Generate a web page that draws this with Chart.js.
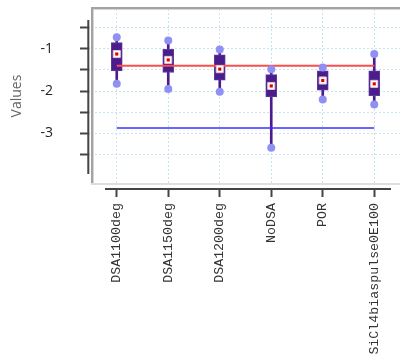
<!DOCTYPE html>
<html>
<head>
<meta charset="utf-8">
<script src="https://cdn.jsdelivr.net/npm/chart.js@4/dist/chart.umd.min.js"></script>
<style>
  html, body { margin: 0; padding: 0; background: #fff; }
  #wrap { width: 400px; height: 356px; }
</style>
</head>
<body>
<div id="wrap"><canvas id="chart" width="400" height="356"></canvas></div>
<script>
const categories = ['DSA1100deg', 'DSA1150deg', 'DSA1200deg', 'NoDSA', 'POR', 'SiCl4biaspulse0E100'];
const whiskerMin = [-1.83, -1.95, -2.02, -3.35, -2.20, -2.32];
const whiskerMax = [-0.72, -0.80, -1.01, -1.48, -1.44, -1.12];
const q1 = [-1.52, -1.56, -1.74, -2.14, -1.98, -2.11];
const q3 = [-0.85, -1.01, -1.14, -1.61, -1.52, -1.52];
const means = [-1.12, -1.26, -1.48, -1.88, -1.75, -1.83];
const redLevel = -1.40;
const blueLevel = -2.88;
const yTicks = [-0.5, -1, -1.5, -2, -2.5, -3, -3.5];

const boxColor = '#4b1c8b';
const dotColor = '#9090f4';

// gray frame around the plot, gaps and the detached axis lines
const framePlugin = {
    id: 'frame',
    beforeDatasetsDraw(chart) {
        const { ctx, chartArea: a } = chart;
        ctx.save();
        ctx.fillStyle = '#fff';
        ctx.fillRect(a.left - 1.7, 0, 1.7, a.bottom + 8);
        ctx.fillRect(a.left, a.bottom + 2, a.right - a.left, 3);
        ctx.fillStyle = '#a3a3a3';
        ctx.fillRect(a.left, a.top - 2, a.right - a.left, 2);
        ctx.fillRect(a.left, a.top - 2, 2, a.bottom - a.top + 2);
        ctx.fillStyle = '#d6d6d6';
        ctx.fillRect(a.left + 2, a.top, a.right - a.left, 1);
        ctx.fillRect(a.left + 2, a.top, 1, a.bottom - a.top);
        ctx.fillStyle = '#dedede';
        ctx.fillRect(a.left, a.bottom, a.right - a.left, 2);

        ctx.strokeStyle = '#444';
        ctx.lineWidth = 2;
        ctx.beginPath();
        ctx.moveTo(a.left - 2.7, a.top + 11);
        ctx.lineTo(a.left - 2.7, a.bottom - 9);
        ctx.moveTo(a.left + 14, a.bottom + 6);
        ctx.lineTo(a.right - 9, a.bottom + 6);
        ctx.stroke();
        ctx.restore();
    }
};

new Chart(document.getElementById('chart'), {
    data: {
        labels: categories,
        datasets: [
            {
                type: 'line',
                data: means,
                showLine: false,
                pointStyle: 'rect',
                pointRadius: 2.2,
                pointBackgroundColor: '#e00000',
                pointBorderWidth: 0,
                order: 0
            },
            {
                type: 'line',
                data: means,
                showLine: false,
                pointStyle: 'rect',
                pointRadius: 5,
                pointBackgroundColor: '#ffffff',
                pointBorderColor: '#e6c4c8',
                pointBorderWidth: 1,
                order: 1
            },
            {
                type: 'line',
                data: whiskerMax,
                showLine: false,
                pointRadius: 4,
                pointBackgroundColor: dotColor,
                pointBorderWidth: 0,
                order: 2
            },
            {
                type: 'line',
                data: whiskerMin,
                showLine: false,
                pointRadius: 4,
                pointBackgroundColor: dotColor,
                pointBorderWidth: 0,
                order: 2
            },
            {
                type: 'line',
                data: categories.map(() => redLevel),
                borderColor: '#ff4d4d',
                borderWidth: 2,
                pointRadius: 0,
                order: 3
            },
            {
                type: 'line',
                data: categories.map(() => blueLevel),
                borderColor: '#3535ff',
                borderWidth: 1.5,
                pointRadius: 0,
                order: 3
            },
            {
                type: 'bar',
                data: categories.map((c, i) => [q1[i], q3[i]]),
                backgroundColor: boxColor,
                borderColor: '#5e3b9e',
                borderWidth: 1,
                borderSkipped: false,
                barThickness: 11,
                grouped: false,
                order: 4
            },
            {
                type: 'bar',
                data: categories.map((c, i) => [whiskerMin[i], whiskerMax[i]]),
                backgroundColor: boxColor,
                borderWidth: 0,
                barThickness: 2,
                grouped: false,
                order: 5
            }
        ]
    },
    options: {
        responsive: false,
        animation: false,
        events: [],
        layout: { autoPadding: false, padding: { top: 9, right: 0, bottom: 0, left: 0 } },
        plugins: {
            legend: { display: false },
            tooltip: { enabled: false }
        },
        scales: {
            x: {
                type: 'category',
                offset: true,
                grid: {
                    offset: false,
                    color: '#c4e4f2',
                    tickColor: '#444',
                    tickWidth: 2,
                    tickLength: 14,
                    tickBorderDash: []
                },
                border: { display: false, dash: [2, 2] },
                ticks: {
                    autoSkip: false,
                    minRotation: 90,
                    maxRotation: 90,
                    padding: 6,
                    color: '#333',
                    font: { family: "'Courier New', 'Liberation Mono', monospace", size: 13.3 }
                },
                afterFit: s => { s.height = 173; s.paddingLeft = 0; s.paddingRight = 0; }
            },
            y: {
                min: -4.19,
                max: -0.048,
                grid: {
                    color: '#c4e4f2',
                    tickColor: '#444',
                    tickWidth: 2,
                    tickLength: 11,
                    tickBorderDash: []
                },
                border: { display: false, dash: [2, 2] },
                afterBuildTicks: s => { s.ticks = yTicks.map(v => ({ value: v })); },
                ticks: {
                    padding: 27,
                    color: '#222',
                    font: { family: "'Open Sans', sans-serif", size: 14 },
                    callback: v => Number.isInteger(v) ? String(v) : ''
                },
                title: {
                    display: true,
                    text: 'Values',
                    color: '#666',
                    font: { family: "'Open Sans', sans-serif", size: 14 },
                    padding: { top: 9, bottom: 0 }
                },
                afterFit: s => { s.width = 91; s.paddingTop = 0; s.paddingBottom = 0; }
            }
        }
    },
    plugins: [framePlugin]
});
</script>
</body>
</html>
